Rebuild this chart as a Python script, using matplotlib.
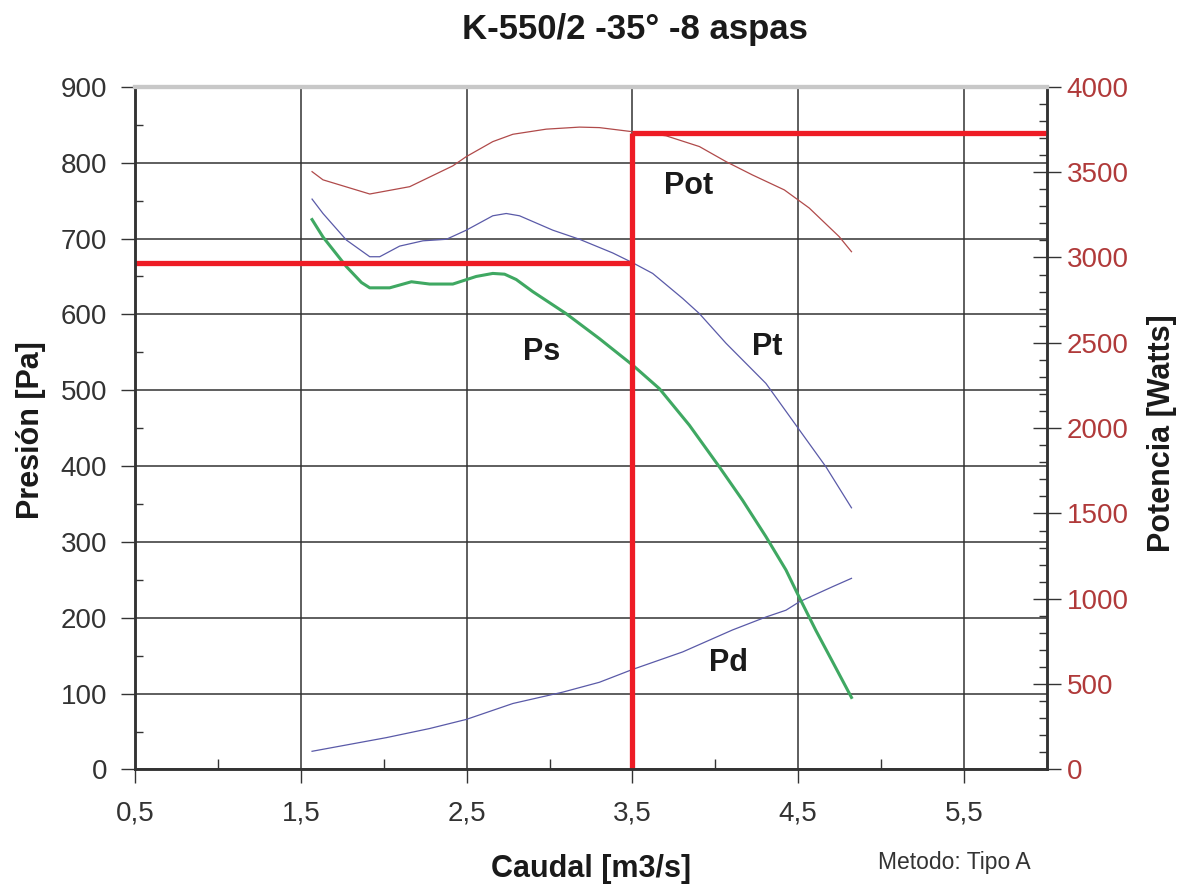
import matplotlib.pyplot as plt
from matplotlib.ticker import MultipleLocator, FuncFormatter

plt.rcParams['font.family'] = ['Liberation Sans', 'DejaVu Sans']

# Presión total (Pt)
pt_x = [1.568, 1.634, 1.775, 1.916, 1.976, 2.096, 2.237, 2.378, 2.498, 2.658, 2.739, 2.819,
        3.020, 3.181, 3.381, 3.502, 3.622, 3.803, 3.904, 4.064, 4.305, 4.486, 4.667, 4.821]
pt_y = [752, 733, 698, 676, 676, 690, 697, 699, 711, 730, 733, 730,
        711, 699, 681, 668, 654, 621, 601, 562, 509, 454, 399, 345]

# Presión estática (Ps)
ps_x = [1.568, 1.634, 1.775, 1.866, 1.916, 2.036, 2.167, 2.277, 2.417, 2.558, 2.658, 2.729, 2.799,
        2.899, 3.100, 3.301, 3.502, 3.663, 3.843, 4.024, 4.164, 4.305, 4.426, 4.506, 4.607, 4.707, 4.821]
ps_y = [725, 702, 663, 642, 635, 635, 643, 640, 640, 650, 654, 653, 646,
        630, 601, 568, 533, 502, 454, 399, 355, 307, 263, 227, 183, 142, 95]

# Presión dinámica (Pd)
pd_x = [1.568, 2.016, 2.277, 2.498, 2.779, 3.080, 3.301, 3.502, 3.803, 4.104, 4.305, 4.426, 4.506, 4.707, 4.821]
pd_y = [24, 42, 54, 66, 87, 102, 115, 132, 155, 184, 201, 210, 221, 241, 252]

# Potencia (Watts)
pot_x = [1.568, 1.634, 1.916, 2.157, 2.417, 2.498, 2.658, 2.779, 2.980, 3.181, 3.301, 3.492,
         3.703, 3.904, 4.064, 4.223, 4.416, 4.566, 4.747, 4.821]
pot_y = [3503, 3455, 3372, 3415, 3537, 3591, 3679, 3722, 3752, 3764, 3761, 3738,
         3713, 3650, 3562, 3484, 3396, 3290, 3122, 3034]

# punto de trabajo
q_op = 3.5
p_op = 668
w_op = 3730

fig = plt.figure(figsize=(11.88, 8.86), dpi=100)
ax = fig.add_axes([0.1136, 0.1315, 0.7677, 0.7705])
ax2 = ax.twinx()

ax.set_xlim(0.5, 6.0)
ax.set_ylim(0, 900)
ax2.set_ylim(0, 4000)

dark = '#333333'
ax.grid(True, which='major', color=dark, linewidth=1.1)
ax.set_axisbelow(True)

ax.plot(pt_x, pt_y, color='#5a5aa8', linewidth=0.9)
ax.plot(pd_x, pd_y, color='#5a5aa8', linewidth=0.9)
ax.plot(ps_x, ps_y, color='#3fa862', linewidth=2.2)
ax2.plot(pot_x, pot_y, color='#b04a4a', linewidth=0.9)

red = '#ee1c25'
ax.plot([0.5, q_op], [p_op, p_op], color=red, linewidth=3.8, solid_capstyle='butt')
ax.plot([q_op, q_op], [0, w_op * 900 / 4000], color=red, linewidth=3.8, solid_capstyle='butt')
ax2.plot([q_op, 6.0], [w_op, w_op], color=red, linewidth=3.8, solid_capstyle='butt', clip_on=False)

lbl = dict(fontsize=22, fontweight='bold', color='#1a1a1a', ha='center', va='center')
ax.text(3.84, 769, 'Pot', **lbl)
ax.text(4.31, 557, 'Pt', **lbl)
ax.text(2.95, 550, 'Ps', **lbl)
ax.text(4.08, 140, 'Pd', **lbl)

comma = FuncFormatter(lambda v, p: ('%.1f' % v).replace('.', ','))
ax.xaxis.set_major_locator(MultipleLocator(1.0, offset=0.5))
ax.xaxis.set_minor_locator(MultipleLocator(1.0))
ax.xaxis.set_major_formatter(comma)
ax.yaxis.set_major_locator(MultipleLocator(100))
ax.yaxis.set_minor_locator(MultipleLocator(50))
ax2.yaxis.set_major_locator(MultipleLocator(500))
ax2.yaxis.set_minor_locator(MultipleLocator(100))

ax.tick_params(axis='x', which='major', direction='out', length=10, width=1, color=dark,
               labelsize=20, labelcolor='#333333', pad=12)
ax.tick_params(axis='x', which='minor', direction='in', length=7, width=1, color=dark)
ax.tick_params(axis='y', which='major', direction='out', length=10, width=1, color=dark,
               labelsize=20, labelcolor='#333333', pad=10)
ax.tick_params(axis='y', which='minor', direction='in', length=6, width=1, color=dark)
ax.tick_params(axis='x', which='both', top=False)
ax2.tick_params(axis='y', which='major', direction='inout', length=20, width=1, color=dark,
                labelsize=20, labelcolor='#b03a3a', pad=4)
ax2.tick_params(axis='y', which='minor', direction='in', length=6, width=1, color=dark)

for a in (ax, ax2):
    a.spines['top'].set_color('#c8c8c8')
    a.spines['top'].set_linewidth(3)
    a.spines['left'].set_color(dark)
    a.spines['left'].set_linewidth(1.8)
    a.spines['right'].set_color(dark)
    a.spines['right'].set_linewidth(1.8)
    a.spines['bottom'].set_color(dark)
    a.spines['bottom'].set_linewidth(1.8)

ax.set_ylabel('Presión [Pa]', fontsize=22, fontweight='bold', color='#1a1a1a')
ax2.set_ylabel('Potencia [Watts]', fontsize=22, fontweight='bold', color='#1a1a1a')
ax.set_xlabel('Caudal [m3/s]', fontsize=22, fontweight='bold', color='#1a1a1a', labelpad=20)
ax.yaxis.set_label_coords(-0.098, 0.497)
ax2.yaxis.set_label_coords(1.110, 0.493)

fig.text(635 / 1188, 1 - 30 / 886, 'K-550/2 -35° -8 aspas', fontsize=25, fontweight='bold',
         color='#1a1a1a', ha='center', va='center')
fig.text(954 / 1188, 1 - 862 / 886, 'Metodo: Tipo A', fontsize=16.5, color='#333333',
         ha='center', va='center')

fig.savefig('out.png', dpi=100)
